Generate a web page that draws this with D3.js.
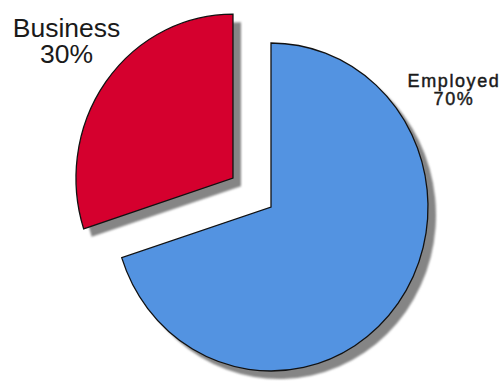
<!DOCTYPE html>
<html>
<head>
<meta charset="utf-8">
<script src="https://cdn.jsdelivr.net/npm/d3@7"></script>
<style>
  html, body { margin: 0; padding: 0; background: #fff; }
  svg { display: block; }
</style>
</head>
<body>
<svg id="chart" width="502" height="381"></svg>
<script>
// Income source breakdown
const categories = ["Employed", "Business"];
const shares = [70, 30];
const sliceColors = ["#5393e1", "#d5002e"];
const exploded = [false, true];

const width = 502, height = 381;
const cx = 271, cy = 207;
const rx = 157, ry = 164;          // pie is drawn slightly taller than wide
const explodeDist = 47;
const shadowDx = 8, shadowDy = 8;

// label anchor points (first-line baseline, centred)
const labelPos = [
  { x: 454, y: 87, size: 18, weight: "normal", spacing: 1.6, lineGap: 18, thicken: 0.45 },
  { x: 66.5, y: 37, size: 26.5, weight: "normal", spacing: 0, lineGap: 26, thicken: 0 }
];

const svg = d3.select("#chart");

const defs = svg.append("defs");
defs.append("filter").attr("id", "soft")
  .attr("x", "-10%").attr("y", "-10%").attr("width", "120%").attr("height", "120%")
  .append("feGaussianBlur").attr("stdDeviation", 1.1);

const pie = d3.pie().sort(null).startAngle(0).endAngle(2 * Math.PI).value(d => d.v);
const arcs = pie(categories.map((c, i) => ({ c, v: shares[i], i })));

const arc = d3.arc().innerRadius(0).outerRadius(rx);
const sy = ry / rx;

function offsetOf(d) {
  if (!exploded[d.data.i]) return [0, 0];
  const mid = (d.startAngle + d.endAngle) / 2;
  return [Math.sin(mid) * explodeDist, -Math.cos(mid) * explodeDist];
}

// shadows first
const shadowLayer = svg.append("g").attr("filter", "url(#soft)");
shadowLayer.selectAll("g")
  .data(arcs)
  .join("g")
  .attr("transform", d => {
    const [ox, oy] = offsetOf(d);
    return `translate(${cx + ox + shadowDx},${cy + oy * sy + shadowDy}) scale(1,${sy})`;
  })
  .append("path")
  .attr("d", arc)
  .attr("fill", "#858585");

// slices
const sliceLayer = svg.append("g");
sliceLayer.selectAll("g")
  .data(arcs)
  .join("g")
  .attr("transform", d => {
    const [ox, oy] = offsetOf(d);
    return `translate(${cx + ox},${cy + oy * sy}) scale(1,${sy})`;
  })
  .append("path")
  .attr("d", arc)
  .attr("fill", d => sliceColors[d.data.i])
  .attr("stroke", "#111")
  .attr("stroke-width", 1.3)
  .attr("stroke-linejoin", "miter")
  .attr("vector-effect", "non-scaling-stroke");

// labels
const labels = svg.append("g")
  .attr("font-family", "'Liberation Sans', Arial, sans-serif")
  .attr("fill", "#1a1a1a")
  .attr("text-anchor", "middle");

arcs.forEach(d => {
  const p = labelPos[d.data.i];
  const t = labels.append("text")
    .attr("x", p.x).attr("y", p.y)
    .attr("font-size", p.size)
    .attr("font-weight", p.weight)
    .attr("letter-spacing", p.spacing);
  if (p.thicken > 0) t.attr("stroke", "#1a1a1a").attr("stroke-width", p.thicken);
  t.append("tspan").attr("x", p.x).attr("dy", 0).text(d.data.c);
  t.append("tspan").attr("x", p.x).attr("dy", p.lineGap).text(d.data.v + "%");
});
</script>
</body>
</html>
